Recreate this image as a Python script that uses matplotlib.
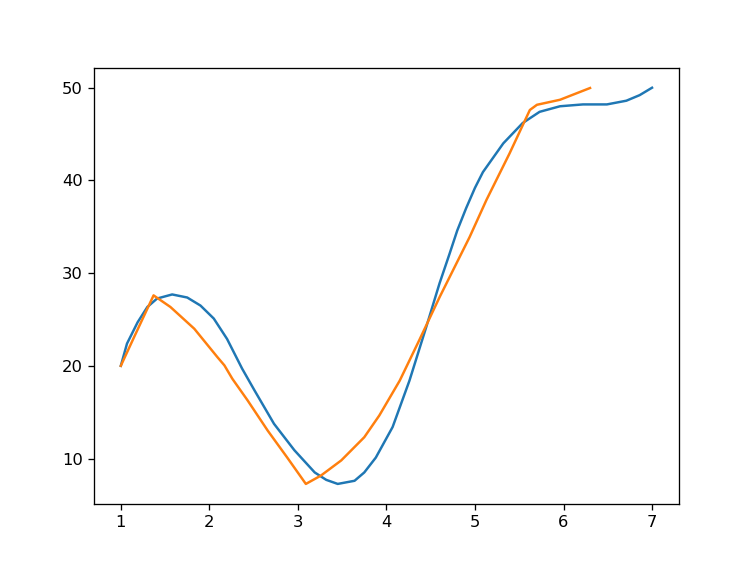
import matplotlib
matplotlib.use("Agg")
import matplotlib.pyplot as plt

# Blue series (smooth curve)
blue_x = [1.0, 1.07, 1.19, 1.30, 1.41, 1.58, 1.75, 1.90, 2.05, 2.20, 2.37, 2.51,
          2.73, 2.96, 3.19, 3.32, 3.45, 3.64, 3.75, 3.88, 4.07, 4.26, 4.45, 4.60,
          4.71, 4.80, 4.90, 5.00, 5.09, 5.32, 5.54, 5.73, 5.96, 6.22, 6.49, 6.71,
          6.86, 7.0]
blue_y = [20.0, 22.4, 24.7, 26.35, 27.26, 27.7, 27.37, 26.5, 25.1, 22.9, 19.7, 17.35,
          13.75, 10.9, 8.5, 7.7, 7.26, 7.6, 8.5, 10.1, 13.4, 18.4, 24.2, 28.9,
          32.0, 34.6, 37.0, 39.2, 40.9, 44.0, 46.2, 47.4, 48.0, 48.2, 48.2, 48.6,
          49.2, 50.0]

# Orange series
orange_x = [1.0, 1.15, 1.37, 1.56, 1.83, 2.09, 2.17, 2.26, 2.43, 2.66, 2.88, 3.09,
            3.26, 3.49, 3.75, 3.92, 4.15, 4.37, 4.60, 4.94, 5.13, 5.39, 5.62, 5.70,
            5.96, 6.30]
orange_y = [20.0, 23.1, 27.6, 26.35, 24.0, 20.95, 20.05, 18.6, 16.3, 13.0, 10.1, 7.26,
            8.16, 9.8, 12.3, 14.65, 18.4, 22.75, 27.4, 33.9, 37.9, 42.9, 47.6, 48.16,
            48.7, 49.97]

fig, ax = plt.subplots(figsize=(754 / 118, 566 / 118), dpi=118)
ax.plot(blue_x, blue_y, color="#1f77b4")
ax.plot(orange_x, orange_y, color="#ff7f0e")
fig.savefig("out.png", dpi=118)
